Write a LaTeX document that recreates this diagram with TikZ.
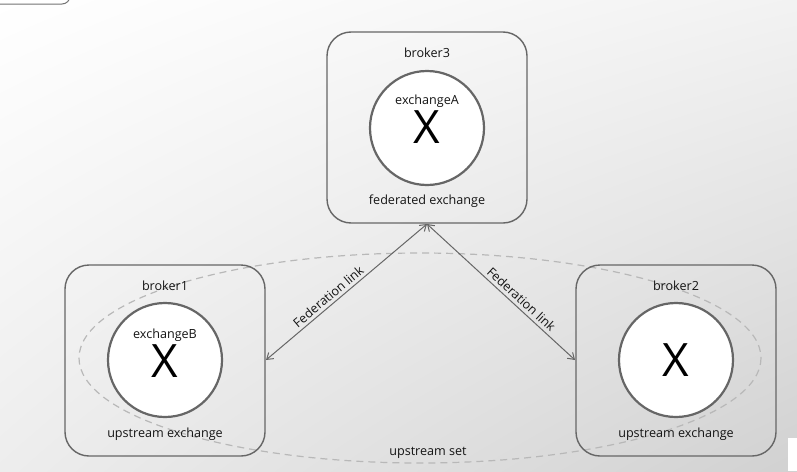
\documentclass[tikz,border=0pt]{standalone}
\usepackage{fontspec}
\setmainfont{Open Sans}
\usetikzlibrary{arrows.meta,shadings}
\begin{document}
\begin{tikzpicture}[x=1pt,y=-1pt,
  broker/.style={draw=black!60,line width=1.4pt,rounded corners=24pt},
  exch/.style={circle,draw=black!60,line width=2.2pt,fill=white,minimum size=114pt,inner sep=0pt},
  lbl/.style={font=\fontsize{12.6}{14}\selectfont,text=black!92,inner sep=0pt},
  bigx/.style={font=\fontsize{46}{50}\selectfont,text=black,inner sep=0pt},
  fed/.style={draw=black!60,line width=1pt,{Straight Barb[length=6pt,width=8pt]}-{Straight Barb[length=6pt,width=8pt]}},
  upset/.style={draw=black!28,dashed,dash pattern=on 7pt off 5pt,line width=1.2pt}]
\useasboundingbox (0,0) rectangle (797,471);
\shade[upper left=white,upper right=black!5,lower left=black!7,lower right=black!18] (0,0) rectangle (797,471);
% top-left fragment
\begin{scope}
\clip (0,0) rectangle (797,471);
\draw[draw=black!55,line width=1pt,fill=white,rounded corners=8pt] (-20,-30) rectangle (70,4);
\end{scope}
\fill[white] (788,438) rectangle (797,471);
% upstream set
\draw[upset] (420,358) ellipse [x radius=341, y radius=105];
\node[lbl] (setlbl) at (428,453) {upstream set};
% brokers
\draw[broker] (327,32) rectangle (527,223);
\draw[broker] (65,265) rectangle (265,456);
\draw[broker] (576,265) rectangle (776,456);
\coordinate (b3s) at (427,224);
\coordinate (b1e) at (266,360);
\coordinate (b2w) at (575,360);
\node[lbl] (b3) at (427,53) {broker3};
\node[lbl] (b1) at (165,286) {broker1};
\node[lbl] (b2) at (676,286) {broker2};
% exchanges
\node[exch] (ea) at (427,128) {};
\node[exch] (eb) at (165,360) {};
\node[exch] (ec) at (676,360) {};
\node[lbl] (eal) at (427,101) {exchangeA};
\node[bigx] (xa) at (427,127) {X};
\node[lbl] (ebl) at (165,335) {exchangeB};
\node[bigx] (xb) at (165,361) {X};
\node[bigx] (xc) at (676,360) {X};
\node[lbl] (fa) at (427,201) {federated exchange};
\node[lbl] (ua) at (165,434) {upstream exchange};
\node[lbl] (uc) at (676,434) {upstream exchange};
% federation links
\draw[fed] (b3s) -- node[lbl,sloped,above=3pt,pos=0.58] {Federation link} (b1e);
\draw[fed] (b3s) -- node[lbl,sloped,above=3pt,pos=0.6] {Federation link} (b2w);
\end{tikzpicture}
\end{document}
